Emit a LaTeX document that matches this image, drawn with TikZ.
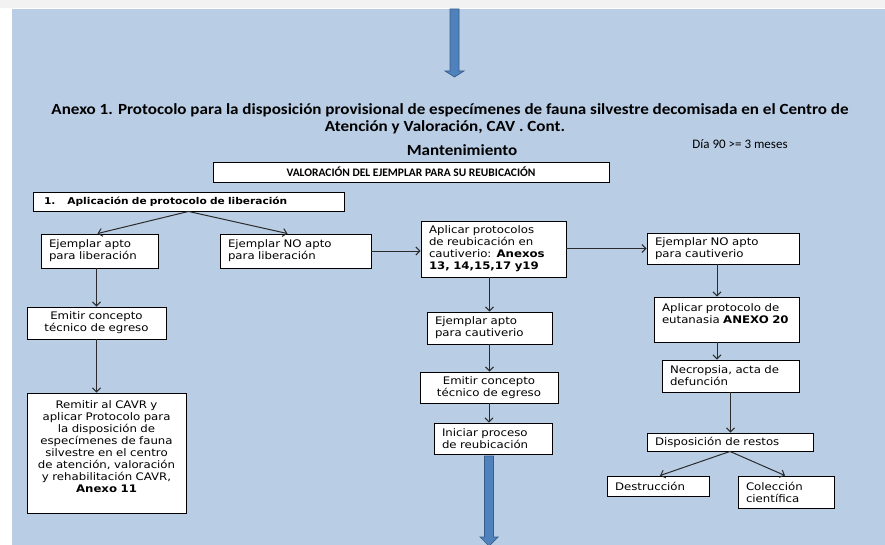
\documentclass[tikz,border=0pt]{standalone}
\usepackage{fontspec}
\setmainfont{Carlito}
\newfontfamily\titlefont[FakeStretch=1.1]{Carlito}
\newfontfamily\boxfont[FakeStretch=1.13]{DejaVu Sans}
\usepackage{tikz}
\usetikzlibrary{positioning, calc, arrows.meta}

\definecolor{bgblue}{HTML}{B9CDE5}
\definecolor{arrowblue}{HTML}{4F81BD}
\definecolor{arrowedge}{HTML}{385D8A}
\definecolor{toolgray}{HTML}{F2F2F2}
\definecolor{linegray}{HTML}{2B2B2B}

\begin{document}
\begin{tikzpicture}[x=1pt, y=-1pt,
    box/.style={draw=black, line width=0.9pt, fill=white, inner xsep=8pt, inner ysep=2pt,
                font=\boxfont\fontsize{10.4}{12}\selectfont, align=left},
    cbox/.style={box, align=center},
    conn/.style={draw=linegray, line width=1pt, -{Straight Barb[length=4pt, width=8pt]}},
    blockarrow/.style={fill=arrowblue, draw=arrowedge, line width=0.7pt}]

    % Page background with the strip of the toolbar on top
    \useasboundingbox (0,0) rectangle (885,545);
    \fill[white] (0,0) rectangle (885,545);
    \fill[toolgray] (0,0) rectangle (885,8);
    \fill[bgblue] (12,9) rectangle (885,545);

    % Block arrow coming in from the previous page
    \filldraw[blockarrow] (450,9) -- (459,9) -- (459,71) -- (464,71) -- (454.5,77)
                          -- (445,71) -- (450,71) -- cycle;

    % Heading
    \node[font=\titlefont\bfseries\fontsize{15.5}{17}\selectfont] (title1) at (450,110)
        {Anexo 1. Protocolo para la disposición provisional de especímenes de fauna silvestre decomisada en el Centro de};
    \node[font=\titlefont\bfseries\fontsize{15.5}{17}\selectfont] (title2) at (445,127)
        {Atención y Valoración, CAV . Cont.};
    \node[font=\titlefont\bfseries\fontsize{15.5}{17}\selectfont] (mant) at (462,150) {Mantenimiento};
    \node[font=\fontsize{13}{15}\selectfont] (dia) at (740,144) {Día 90 >= 3 meses};

    % Top boxes
    \node[cbox, font=\bfseries\fontsize{11.5}{13}\selectfont, minimum width=396pt, minimum height=20pt] (valor)
        at (411,172) {VALORACIÓN DEL EJEMPLAR PARA SU REUBICACIÓN};
    \node[box, font=\boxfont\bfseries\fontsize{9.4}{11}\selectfont, inner xsep=11pt, text width=289pt, minimum height=19pt] (aplic)
        at (188.5,201.5) {1.\hspace{12pt}Aplicación de protocolo de liberación};

    % Release branch (left column)
    \node[box, text width=101pt, minimum height=34pt] (aptolib) at (99.5,251) {Ejemplar apto\\para liberación};
    \node[cbox, text width=123pt, minimum height=32pt] (emitir1) at (96.5,323) {Emitir concepto\\técnico de egreso};
    \node[cbox, text width=143pt, minimum height=120pt] (remitir) at (106.5,453)
        {Remitir al CAVR y\\aplicar Protocolo para\\la disposición de\\especímenes de fauna\\silvestre en el centro\\de atención, valoración\\y rehabilitación CAVR,\\\textbf{Anexo 11}\\\mbox{}};

    % Not fit for release
    \node[box, text width=135pt, minimum height=34pt] (noaptolib) at (295.5,251) {Ejemplar NO apto\\para liberación};

    % Captivity branch (middle column)
    \node[box, text width=129pt, minimum height=56pt] (reubic) at (493.5,249)
        {Aplicar protocolos\\de reubicación en\\cautiverio: \textbf{Anexos}\\\textbf{13, 14,15,17 y19}};
    \node[box, text width=109pt, minimum height=32pt] (aptocaut) at (489.5,328) {Ejemplar apto\\para cautiverio};
    \node[cbox, text width=122pt, minimum height=31pt] (emitir2) at (489,387.5) {Emitir concepto\\técnico de egreso};
    \node[box, text width=102pt, minimum height=31pt] (inicia) at (493,438.5) {Iniciar proceso\\de reubicación};

    % Euthanasia branch (right column)
    \node[box, text width=136pt, minimum height=31pt] (noaptocaut) at (723,248.5) {Ejemplar NO apto\\para cautiverio};
    \node[box, text width=129pt, minimum height=45pt] (eutan) at (726.5,319.5)
        {Aplicar protocolo de\\eutanasia \textbf{ANEXO 20}\\\mbox{}};
    \node[box, text width=121pt, minimum height=32pt] (necrop) at (730.5,376) {Necropsia, acta de\\defunción};
    \node[box, text width=150pt, minimum height=18pt] (dispos) at (730,442) {Disposición de restos};
    \node[box, text width=86pt, minimum height=20pt] (destru) at (658,486) {Destrucción};
    \node[box, text width=80pt, minimum height=32pt] (colecc) at (786,492) {Colección\\científica};

    % Connectors
    \draw[conn] (aplic.south) -- ([xshift=-2pt]aptolib.north);
    \draw[conn] (aplic.south) -- ([xshift=-8pt]noaptolib.north);
    \draw[conn] (emitir1.north |- aptolib.south) -- (emitir1.north);
    \draw[conn] (emitir1.south) -- (emitir1.south |- remitir.north);
    \draw[conn] (noaptolib.east) -- (noaptolib.east -| reubic.west);
    \draw[conn] (reubic.east |- noaptocaut.west) -- (noaptocaut.west);
    \draw[conn] (aptocaut.north |- reubic.south) -- (aptocaut.north);
    \draw[conn] (aptocaut.south) -- (aptocaut.south |- emitir2.north);
    \draw[conn] (emitir2.south) -- (emitir2.south |- inicia.north);
    \draw[conn] ([xshift=-6pt]noaptocaut.south) -- ([xshift=-6pt]noaptocaut.south |- eutan.north);
    \draw[conn] ([xshift=-9.5pt]eutan.south) -- ([xshift=-9.5pt]eutan.south |- necrop.north);
    \draw[conn] (necrop.south) -- (necrop.south |- dispos.north);
    \draw[conn] (dispos.south) -- ([xshift=2pt]destru.north);
    \draw[conn] (dispos.south) -- ([xshift=-1pt]colecc.north);

    % Block arrow going on to the next page
    \filldraw[blockarrow] (484.5,456) -- (493.5,456) -- (493.5,537) -- (498,537) -- (489,546)
                          -- (480,537) -- (484.5,537) -- cycle;

\end{tikzpicture}
\end{document}
